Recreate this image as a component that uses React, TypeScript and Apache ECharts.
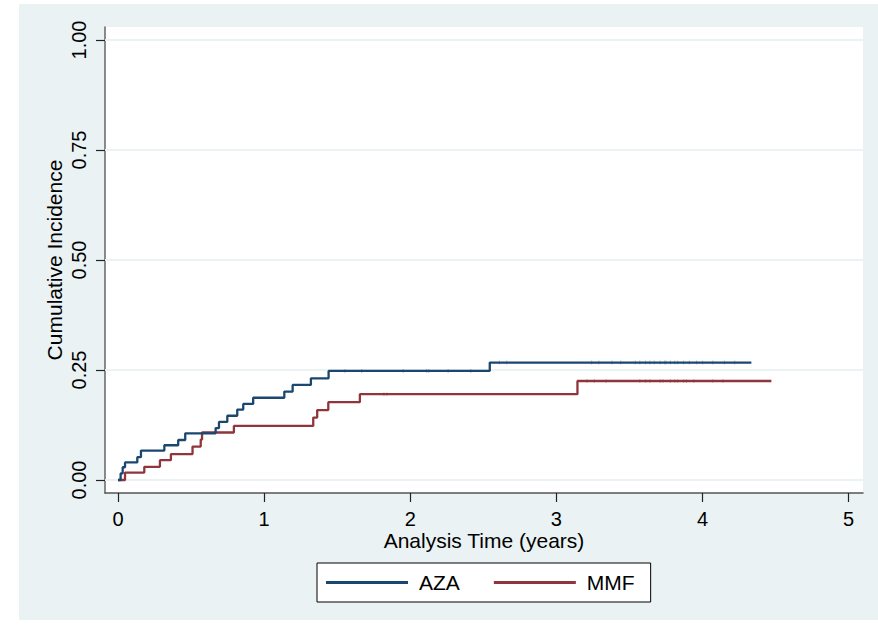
import React, { useEffect, useRef } from "react";
import * as echarts from "echarts";

const xTicks = [0, 1, 2, 3, 4, 5];
const yTicks = [0, 0.25, 0.5, 0.75, 1];

const azaTimes = [0, 0.018, 0.032, 0.048, 0.132, 0.157, 0.317, 0.412, 0.46, 0.668, 0.691, 0.748, 0.816, 0.857, 0.925, 1.138, 1.195, 1.32, 1.441, 2.544, 4.334];
const azaValues = [0, 0.015, 0.029, 0.04, 0.052, 0.067, 0.079, 0.091, 0.106, 0.118, 0.132, 0.146, 0.16, 0.173, 0.187, 0.201, 0.216, 0.231, 0.248, 0.267, 0.267];

const mmfTimes = [0, 0.048, 0.18, 0.287, 0.362, 0.51, 0.566, 0.575, 0.793, 1.336, 1.363, 1.439, 1.655, 3.144, 4.471];
const mmfValues = [0, 0.017, 0.03, 0.045, 0.059, 0.076, 0.092, 0.108, 0.123, 0.142, 0.159, 0.177, 0.195, 0.225, 0.225];

const azaCensor = [1.553, 1.667, 1.952, 2.111, 2.127, 2.259, 2.414, 2.61, 2.66, 3.24, 3.29, 3.38, 3.44, 3.54, 3.57, 3.61, 3.64, 3.67, 3.71, 3.74, 3.75, 3.78, 3.81, 3.83, 3.87, 3.91, 3.96, 4.0, 4.07, 4.15, 4.22];
const mmfCensor = [1.82, 1.84, 3.21, 3.26, 3.34, 3.57, 3.61, 3.64, 3.71, 3.73, 3.78, 3.81, 3.83, 3.87, 3.89, 3.94, 4.07, 4.14];

const BLUE = "#1A476F";
const RED = "#90353B";
const FONT = "Liberation Sans, Arial, Helvetica, sans-serif";

function valueAt(times: number[], values: number[], t: number) {
  let v = values[0];
  for (let i = 0; i < times.length; i++) if (times[i] <= t) v = values[i];
  return v;
}

export default function App() {
  const ref = useRef<HTMLDivElement>(null);
  useEffect(() => {
    if (!ref.current) return;
    const chart = echarts.init(ref.current, undefined, { renderer: "svg" });
    const aza = azaTimes.map((t, i) => [t, azaValues[i]]);
    const mmf = mmfTimes.map((t, i) => [t, mmfValues[i]]);
    chart.setOption({
      animation: false,
      textStyle: { fontFamily: FONT },
      grid: { left: 105, right: 15, top: 27, bottom: 137, show: true, backgroundColor: "#ffffff", borderWidth: 0 },
      xAxis: {
        type: "value",
        min: -0.089,
        max: 5.098,
        name: "Analysis Time (years)",
        nameLocation: "middle",
        nameGap: 37,
        nameMoveOverlap: false,
        nameTextStyle: { fontSize: 21, color: "#000", fontFamily: FONT },
        axisLine: { show: true, onZero: false, lineStyle: { color: "#555", width: 1.5 } },
        axisTick: { show: true, length: 9, customValues: xTicks, lineStyle: { color: "#222", width: 1.2 } },
        axisLabel: { customValues: xTicks, fontSize: 20, color: "#000", margin: 16, fontFamily: FONT },
        splitLine: { show: false },
      },
      yAxis: {
        type: "value",
        min: -0.0295,
        max: 1.0295,
        name: "Cumulative Incidence",
        nameLocation: "middle",
        nameRotate: 90,
        nameGap: 40,
        nameMoveOverlap: false,
        nameTextStyle: { fontSize: 21, color: "#000", fontFamily: FONT },
        axisLine: { show: true, onZero: false, lineStyle: { color: "#666", width: 1.5 } },
        axisTick: { show: true, length: 9, customValues: yTicks, lineStyle: { color: "#222", width: 1.2 } },
        axisLabel: {
          customValues: yTicks,
          rotate: 90,
          fontSize: 20,
          color: "#000",
          margin: 16,
          fontFamily: FONT,
          formatter: (v: number) => v.toFixed(2),
        },
        splitLine: { show: false },
      },
      legend: {
        left: 317,
        top: 563,
        orient: "horizontal",
        backgroundColor: "#ffffff",
        borderColor: "#000",
        borderWidth: 1,
        borderRadius: 0,
        padding: [9, 16, 9, 9],
        itemGap: 34,
        itemWidth: 82,
        itemHeight: 3,
        textStyle: { fontSize: 21, color: "#000", fontFamily: FONT, padding: [0, 0, 0, 6] },
        data: [
          { name: "AZA", icon: "rect", itemStyle: { color: BLUE } },
          { name: "MMF", icon: "rect", itemStyle: { color: RED } },
        ],
      },
      series: [
        {
          name: "grid",
          type: "line",
          data: [],
          silent: true,
          z: 1,
          markLine: {
            z: 1,
            silent: true,
            symbol: ["none", "none"],
            label: { show: false },
            lineStyle: { color: "#EAF2F3", width: 2, type: "solid" },
            data: yTicks.map((v) => ({ yAxis: v })),
          },
        },
        {
          name: "AZA",
          type: "line",
          step: "end",
          data: aza,
          showSymbol: false,
          symbol: "none",
          z: 4,
          lineStyle: { color: BLUE, width: 2.3 },
          itemStyle: { color: BLUE },
        },
        {
          name: "MMF",
          type: "line",
          step: "end",
          data: mmf,
          showSymbol: false,
          symbol: "none",
          z: 3,
          lineStyle: { color: RED, width: 2.3 },
          itemStyle: { color: RED },
        },
        {
          name: "AZA censored",
          type: "scatter",
          data: azaCensor.map((t) => [t, valueAt(azaTimes, azaValues, t)]),
          symbol: "rect",
          symbolSize: [1.2, 4],
          z: 5,
          itemStyle: { color: BLUE, opacity: 0.3 },
          silent: true,
        },
        {
          name: "MMF censored",
          type: "scatter",
          data: mmfCensor.map((t) => [t, valueAt(mmfTimes, mmfValues, t)]),
          symbol: "rect",
          symbolSize: [1.2, 4],
          z: 5,
          itemStyle: { color: RED, opacity: 0.3 },
          silent: true,
        },
      ],
    });
    return () => chart.dispose();
  }, []);
  return (
    <div style={{ position: "fixed", left: 0, top: 0, width: 878, height: 630, background: "#ffffff" }}>
      <div style={{ position: "absolute", left: 19, top: 4, width: 859, height: 616, background: "#EAF2F3" }} />
      <div ref={ref} style={{ position: "absolute", left: 0, top: 0, width: 878, height: 630 }} />
    </div>
  );
}
